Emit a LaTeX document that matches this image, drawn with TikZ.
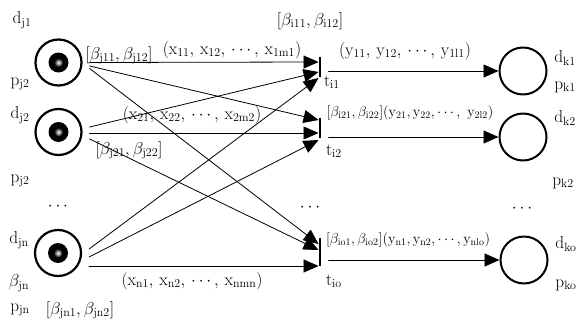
\documentclass[tikz,border=0pt]{standalone}
\usetikzlibrary{arrows.meta,calc}
\newcommand{\rs}[2]{\mathrm{#1}_{\mathrm{#2}}}

\begin{document}
\begin{tikzpicture}[x=1pt,y=-1pt,line cap=round,line join=round,
  place/.style={circle,draw,line width=2.2pt,minimum size=46pt,inner sep=0pt},
  sink/.style={circle,draw,line width=2pt,minimum size=47pt,inner sep=0pt},
  trans/.style={rectangle,fill=black,minimum width=2.5pt,inner sep=0pt},
  arc/.style={line width=0.8pt,-{Triangle[length=15pt,width=13pt]}},
  lbl/.style={inner sep=0pt,font=\fontsize{18}{21}\selectfont},
  slbl/.style={inner sep=0pt,font=\fontsize{14}{17}\selectfont}]
  \useasboundingbox (0,0) rectangle (583,329);
  % places with tokens
  \node[place] (pj1) at (58.5,62.5) {}; \node[place] (pj2) at (58.5,132) {}; \node[place] (pjn) at (58,253) {};
  \foreach \P in {pj1,pj2,pjn}{\fill (\P) circle (10); \shade[inner color=white,outer color=black] (\P) circle (4.5);}
  % transitions
  \node[trans,minimum height=20pt] (ti1) at (320,67) {};
  \node[trans,minimum height=20pt] (ti2) at (320,128) {};
  \node[trans,minimum height=28pt] (tio) at (320,252) {};
  % output places
  \node[sink] (tk1) at (523,71) {}; \node[sink] (tk2) at (523,137) {}; \node[sink] (tko) at (524,260) {};
  % arcs
  \foreach \s/\sy/\t/\ty in {pj1/0/ti1/-5, pj1/3.5/ti2/-8, pj1/6/tio/-8, pj2/-5/ti1/5, pj2/1/ti2/5,
      pj2/7/tio/-2, pjn/-4/ti1/11, pjn/4/ti2/12, pjn/13/tio/14}
    \draw[arc] ($(\s.east)+(7,\sy)$) -- ($(\t.west)+(0,\ty)$);
  \foreach \t/\k in {ti1/tk1,ti2/tk2,tio/tko}
    \draw[arc] ([xshift=7pt]\t.east |- \k) -- (\k);
  % labels
  \node[lbl] (ldj1) at (22,20) {$\rs{d}{j1}$};
  \node[lbl] (lpj1) at (20,84) {$\rs{p}{j2}$};
  \node[lbl] (ldj2) at (20,115) {$\rs{d}{j2}$};
  \node[lbl] (lpj2) at (20,181) {$\rs{p}{j2}$};
  \node[lbl] (ldotsj) at (58,207) {$\cdots$};
  \node[lbl] (ldjn) at (19,240) {$\rs{d}{jn}$};
  \node[lbl] (lbjn) at (19,283) {$\beta_{\mathrm{jn}}$};
  \node[lbl] (lpjn) at (20,310) {$\rs{p}{jn}$};
  \node[lbl] (lbrn) at (80,310) {$[\beta_{\mathrm{jn1}},\beta_{\mathrm{jn2}}]$};
  \node[lbl] (lbr1) at (119,55) {$[\beta_{\mathrm{j11}},\beta_{\mathrm{j12}}]$};
  \node[lbl] (lbr2) at (129,150) {$[\beta_{\mathrm{j21}},\beta_{\mathrm{j22}}]$};
  \node[lbl] (lx1) at (232,50) {$(\rs{x}{11},\,\rs{x}{12},\,\cdots,\,\rs{x}{1m1})$};
  \node[lbl] (lx2) at (192,115) {$(\rs{x}{21},\,\rs{x}{22},\,\cdots,\,\rs{x}{2m2})$};
  \node[lbl] (lxn) at (192,281) {$(\rs{x}{n1},\,\rs{x}{n2},\,\cdots,\,\rs{x}{nmn})$};
  \node[lbl] (lbi1) at (310,21) {$[\beta_{\mathrm{i11}},\beta_{\mathrm{i12}}]$};
  \node[lbl] (lti1) at (332,82) {$\rs{t}{i1}$};
  \node[lbl] (lti2) at (334,151) {$\rs{t}{i2}$};
  \node[lbl] (ltio) at (334,281) {$\rs{t}{io}$};
  \node[lbl] (ldotst) at (310,208) {$\cdots$};
  \node[lbl] (ly1) at (405,51) {$(\rs{y}{11},\,\rs{y}{12},\,\cdots,\,\rs{y}{1l1})$};
  \node[slbl] (ly2) at (410,113) {$[\beta_{\mathrm{i21}},\beta_{\mathrm{i22}}](\rs{y}{21},\rs{y}{22},\cdots,\ \rs{y}{2l2})$};
  \node[slbl] (lyo) at (408,240) {$[\beta_{\mathrm{io1}},\beta_{\mathrm{io2}}](\rs{y}{n1},\rs{y}{n2},\cdots,\rs{y}{nlo})$};
  \node[lbl] (ldk1) at (565,58) {$\rs{d}{k1}$};
  \node[lbl] (lpk1) at (565,87) {$\rs{p}{k1}$};
  \node[lbl] (ldk2) at (565,118) {$\rs{d}{k2}$};
  \node[lbl] (lpk2) at (563,183) {$\rs{p}{k2}$};
  \node[lbl] (ldotsk) at (522,209) {$\cdots$};
  \node[lbl] (ldko) at (566,244) {$\rs{d}{ko}$};
  \node[lbl] (lpko) at (566,285) {$\rs{p}{ko}$};
\end{tikzpicture}
\end{document}
